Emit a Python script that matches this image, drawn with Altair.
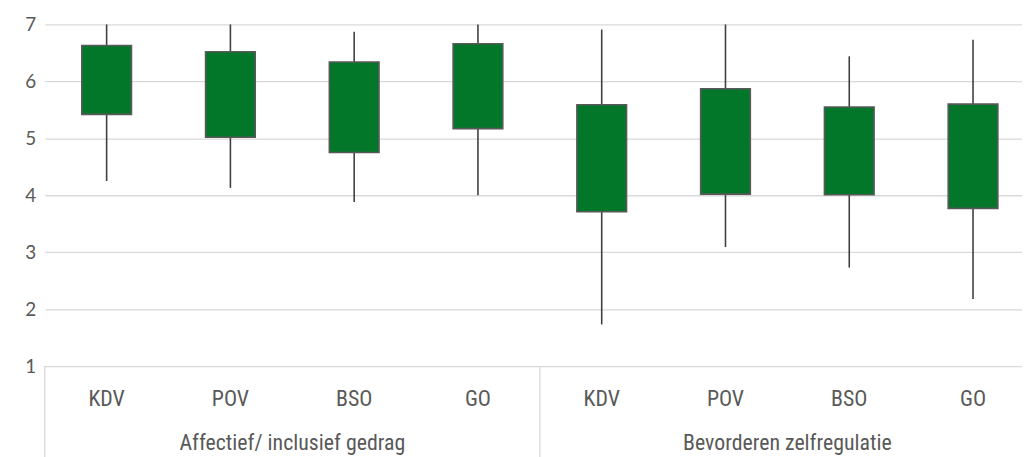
import altair as alt
import pandas as pd

groups = ["Affectief/ inclusief gedrag"] * 4 + ["Bevorderen zelfregulatie"] * 4
categories = ["KDV", "POV", "BSO", "GO", "KDV", "POV", "BSO", "GO"]
low = [4.25, 4.13, 3.88, 4.00, 1.73, 3.09, 2.73, 2.18]
box_low = [5.42, 5.02, 4.75, 5.17, 3.71, 4.02, 4.01, 3.77]
box_high = [6.63, 6.52, 6.34, 6.66, 5.59, 5.87, 5.55, 5.60]
high = [7.00, 7.00, 6.87, 7.00, 6.91, 7.00, 6.44, 6.73]
y_ticks = [1, 2, 3, 4, 5, 6, 7]

keys = [f"{g}|{c}" for g, c in zip(groups, categories)]
df = pd.DataFrame({
    "key": keys, "group": groups, "cat": categories,
    "low": low, "box_low": box_low, "box_high": box_high, "high": high,
})

group_names = ["Affectief/ inclusief gedrag", "Bevorderen zelfregulatie"]
grp_df = pd.DataFrame({"group": group_names, "key": [keys[2], keys[6]]})
sep_df = pd.DataFrame({"key": [keys[0], keys[4]]})

TEXT = "#595959"
XFONT = "Liberation Sans Narrow, Roboto Condensed, Lato, sans-serif"

xs = alt.Scale(domain=keys, range=[0, 997], paddingInner=0, paddingOuter=0)
y = alt.Y(
    "low:Q",
    scale=alt.Scale(domain=[1, 7], nice=False, zero=False),
    axis=alt.Axis(values=y_ticks, format="d", title=None, ticks=False,
                  domain=False, labelPadding=9, labelFontSize=19,
                  labelColor=TEXT, labelFont="Lato", gridColor="#D9D9D9",
                  gridWidth=1.3),
)

whisk = alt.Chart(df).mark_rule(color="#404040", strokeWidth=1.6).encode(
    x=alt.X("key:N", scale=xs, axis=None),
    y=y,
    y2="high:Q",
)
boxes = alt.Chart(df).mark_bar(size=50, color="#02772A", stroke="#595959",
                               strokeWidth=1.6).encode(
    x=alt.X("key:N", scale=xs, axis=None),
    y="box_low:Q",
    y2="box_high:Q",
)
cat_lbl = alt.Chart(df).mark_text(fontSize=22, font=XFONT, color=TEXT,
                                  baseline="middle").encode(
    x=alt.X("key:N", scale=xs, axis=None),
    y=alt.value(377),
    text="cat:N",
)
grp_lbl = alt.Chart(grp_df).mark_text(fontSize=22, font=XFONT, color=TEXT,
                                      baseline="middle").encode(
    x=alt.X("key:N", scale=xs, axis=None, bandPosition=0),
    y=alt.value(421),
    text="group:N",
)
seps = alt.Chart(sep_df).mark_rule(color="#D9D9D9", strokeWidth=1.3).encode(
    x=alt.X("key:N", scale=xs, axis=None, bandPosition=0),
    y=alt.value(344),
    y2=alt.value(440),
)

chart = alt.layer(whisk, boxes, seps, cat_lbl, grp_lbl).properties(
    width=984, height=344,
    autosize=alt.AutoSizeParams(type="none"),
    padding={"left": 37, "top": 15, "right": 0, "bottom": 90},
    background="white",
).configure_view(stroke=None)

chart.save("out.html", embed_options={"renderer": "svg", "actions": False})
